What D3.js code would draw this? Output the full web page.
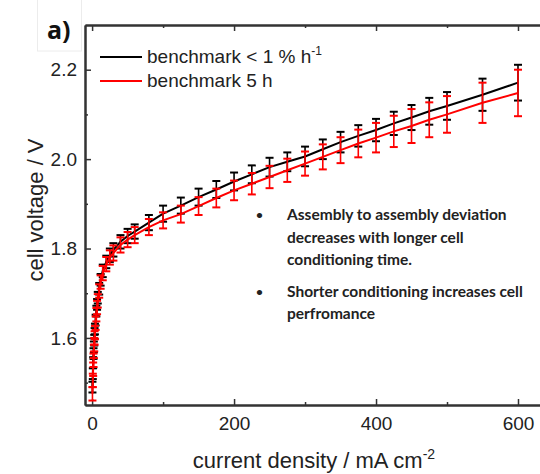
<!DOCTYPE html>
<html>
<head>
<meta charset="utf-8">
<script src="https://cdn.jsdelivr.net/npm/d3@7"></script>
<style>
body { margin: 0; background: #fff; }
svg { display: block; font-family: Arial, "Liberation Sans", sans-serif; }
</style>
</head>
<body>
<script>
// current density (mA cm-2)
var current = [0.5, 1, 1.5, 2, 2.5, 3, 3.5, 4, 5, 6, 7, 8, 10, 12, 15, 20, 25, 30, 40, 50, 60, 80,
               100, 125, 150, 175, 200, 225, 250, 275, 300, 325, 350, 375, 400, 425, 450, 475, 500, 550, 600];

// benchmark < 1 % h-1 (black)
var voltBench = [1.490, 1.520, 1.545, 1.565, 1.580, 1.595, 1.610, 1.620, 1.640, 1.660, 1.675, 1.690, 1.710, 1.730, 1.750, 1.770, 1.785, 1.797, 1.815, 1.828, 1.838, 1.858,
                 1.878, 1.896, 1.915, 1.932, 1.950, 1.966, 1.982, 1.994, 2.006, 2.022, 2.038, 2.052, 2.065, 2.080, 2.093, 2.107, 2.119, 2.144, 2.171];
var errBench = [0.012, 0.012, 0.012, 0.012, 0.012, 0.012, 0.012, 0.012, 0.012, 0.012, 0.012, 0.013, 0.013, 0.013, 0.014, 0.014, 0.015, 0.015, 0.015, 0.016, 0.016, 0.017,
                0.018, 0.018, 0.019, 0.019, 0.020, 0.020, 0.021, 0.021, 0.022, 0.022, 0.023, 0.024, 0.025, 0.026, 0.028, 0.030, 0.031, 0.036, 0.040];

// benchmark 5 h (red)
var voltShort = [1.475, 1.505, 1.530, 1.550, 1.570, 1.585, 1.600, 1.612, 1.633, 1.652, 1.668, 1.683, 1.705, 1.725, 1.745, 1.765, 1.780, 1.790, 1.808, 1.820, 1.830, 1.848,
                 1.863, 1.877, 1.895, 1.913, 1.930, 1.945, 1.960, 1.975, 1.990, 2.005, 2.020, 2.035, 2.048, 2.062, 2.074, 2.088, 2.100, 2.126, 2.148];
var errShort = [0.015, 0.015, 0.015, 0.015, 0.015, 0.015, 0.015, 0.015, 0.015, 0.015, 0.015, 0.015, 0.015, 0.015, 0.016, 0.016, 0.016, 0.017, 0.017, 0.017, 0.018, 0.018,
                0.018, 0.019, 0.020, 0.021, 0.022, 0.024, 0.025, 0.026, 0.027, 0.028, 0.029, 0.031, 0.033, 0.035, 0.038, 0.039, 0.041, 0.045, 0.052];

var xTicks = [0, 200, 400, 600],
    xMinor = [100, 300, 500],
    yTicks = [1.6, 1.8, 2.0, 2.2],
    yMinor = [1.5, 1.7, 1.9, 2.1];

var seriesNames = ["benchmark < 1 % h", "benchmark 5 h"],
    seriesColors = ["#000000", "#ff0000"];

var notes = [
  ["Assembly to assembly deviation", "decreases with longer cell", "conditioning  time."],
  ["Shorter conditioning  increases cell", "perfromance"]
];

var width = 540,
    height = 474;

var margin = {left: 85, top: 25, right: 0, bottom: 69};

var x = d3.scaleLinear().domain([-10, 631]).range([margin.left, width - margin.right]);
var y = d3.scaleLinear().domain([1.45, 2.3]).range([height - margin.bottom, margin.top]);

var svg = d3.select("body").append("svg")
    .attr("width", width)
    .attr("height", height);

// panel label box
svg.append("rect")
    .attr("x", 37.5).attr("y", -1).attr("width", 44).attr("height", 52)
    .attr("fill", "#fff").attr("stroke", "#ececec");
svg.append("text")
    .attr("x", 47).attr("y", 39)
    .style("font-family", "'Open Sans', sans-serif")
    .style("font-weight", "bold")
    .style("font-size", "25px")
    .attr("fill", "#111")
    .text("a)");

// axes
function styleAxis(g) {
  g.select(".domain").attr("stroke", "#333").attr("stroke-width", 2);
  g.selectAll(".tick line").attr("stroke", "#333").attr("stroke-width", 1.5);
  g.selectAll("text").style("font-size", "19px").attr("fill", "#222");
}

var y0 = height - margin.bottom;

svg.append("g").attr("transform", "translate(0," + y0 + ")")
    .call(d3.axisBottom(x).tickValues(xTicks).tickSize(-6).tickSizeOuter(0).tickPadding(12).tickFormat(d3.format("d")))
    .call(styleAxis);
svg.append("g").attr("transform", "translate(0," + y0 + ")")
    .call(d3.axisBottom(x).tickValues(xMinor).tickSize(-3).tickSizeOuter(0).tickFormat(""))
    .call(styleAxis);

svg.append("g").attr("transform", "translate(0," + margin.top + ")")
    .call(d3.axisTop(x).tickValues(xTicks).tickSize(-6).tickSizeOuter(0).tickFormat(""))
    .call(styleAxis);
svg.append("g").attr("transform", "translate(0," + margin.top + ")")
    .call(d3.axisTop(x).tickValues(xMinor).tickSize(-3).tickSizeOuter(0).tickFormat(""))
    .call(styleAxis);

svg.append("g").attr("transform", "translate(" + margin.left + ",0)")
    .call(d3.axisLeft(y).tickValues(yTicks).tickSize(-6).tickSizeOuter(0).tickPadding(8).tickFormat(d3.format(".1f")))
    .call(styleAxis);
svg.append("g").attr("transform", "translate(" + margin.left + ",0)")
    .call(d3.axisLeft(y).tickValues(yMinor).tickSize(-3).tickSizeOuter(0).tickFormat(""))
    .call(styleAxis);

// axis titles
var xTitle = svg.append("text")
    .attr("x", 314).attr("y", 468)
    .attr("text-anchor", "middle")
    .style("font-size", "22px")
    .attr("fill", "#222")
    .text("current density / mA cm");
xTitle.append("tspan").attr("dy", -9).style("font-size", "14px").text("-2");

svg.append("text")
    .attr("transform", "translate(43,210) rotate(-90)")
    .attr("text-anchor", "middle")
    .style("font-size", "22px")
    .attr("fill", "#222")
    .text("cell voltage / V");

// series
var series = [
  {name: seriesNames[0], color: seriesColors[0], v: voltBench, e: errBench},
  {name: seriesNames[1], color: seriesColors[1], v: voltShort, e: errShort}
];

var line = d3.line()
    .x(function(d) { return x(d[0]); })
    .y(function(d) { return y(d[1]); });

series.forEach(function(s) {
  var pts = current.map(function(c, i) { return [c, s.v[i], s.e[i]]; });

  var g = svg.append("g").attr("class", "series");

  g.append("path")
      .datum(pts)
      .attr("fill", "none")
      .attr("stroke", s.color)
      .attr("stroke-width", 2)
      .attr("d", line);

  var bars = g.selectAll(".err").data(pts).enter().append("g").attr("class", "err")
      .attr("stroke", s.color).attr("stroke-width", 1.6);

  bars.append("line")
      .attr("x1", function(d) { return x(d[0]); })
      .attr("x2", function(d) { return x(d[0]); })
      .attr("y1", function(d) { return y(d[1] - d[2]); })
      .attr("y2", function(d) { return y(d[1] + d[2]); });
  bars.append("line")
      .attr("x1", function(d) { return x(d[0]) - 4; })
      .attr("x2", function(d) { return x(d[0]) + 4; })
      .attr("y1", function(d) { return y(d[1] + d[2]); })
      .attr("y2", function(d) { return y(d[1] + d[2]); })
      .attr("stroke-width", 2);
  bars.append("line")
      .attr("x1", function(d) { return x(d[0]) - 4; })
      .attr("x2", function(d) { return x(d[0]) + 4; })
      .attr("y1", function(d) { return y(d[1] - d[2]); })
      .attr("y2", function(d) { return y(d[1] - d[2]); })
      .attr("stroke-width", 2);
});

// legend
var legend = svg.append("g").attr("class", "legend");
series.forEach(function(s, i) {
  var ly = 57 + i * 24;
  legend.append("line")
      .attr("x1", 100).attr("x2", 142)
      .attr("y1", ly).attr("y2", ly)
      .attr("stroke", s.color).attr("stroke-width", 2);
  var t = legend.append("text")
      .attr("x", 147).attr("y", ly + 6)
      .style("font-size", "19px")
      .attr("fill", "#222")
      .text(s.name);
  if (i == 0) t.append("tspan").attr("dy", -8).style("font-size", "12px").text("-1");
});

// notes
var noteG = svg.append("g")
    .style("font-family", "Lato, 'Open Sans', sans-serif")
    .style("font-weight", "bold")
    .style("font-size", "15.5px")
    .attr("fill", "#222");

var lineY = 220;
notes.forEach(function(n, k) {
  noteG.append("text").attr("x", 256).attr("y", lineY - 1).style("font-size", "12px").text("\u2022");
  n.forEach(function(str, j) {
    noteG.append("text").attr("x", 287).attr("y", lineY + j * 22.5).text(str);
  });
  lineY += n.length * 22.5 + 9;
});
</script>
</body>
</html>
